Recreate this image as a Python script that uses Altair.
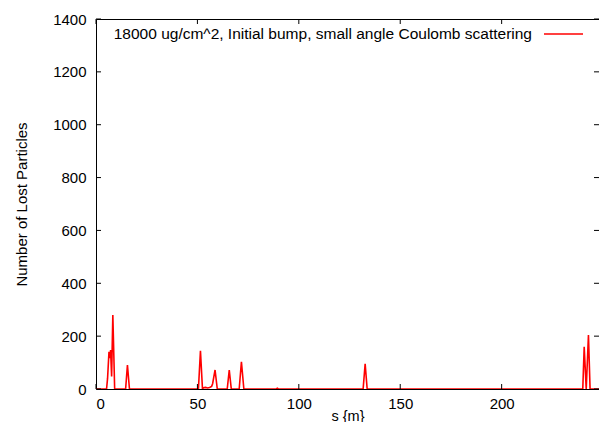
import altair as alt
import pandas as pd

# data
s_m = [0, 5.2, 5.7, 6.4, 6.9, 7.2, 7.7, 8.3, 9.2, 14.6, 15.5, 16.5,
       50.5, 51.5, 52.5, 53.0, 54.0, 55.0, 56.0, 57.0, 57.5, 58.7, 59.8,
       64.7, 65.7, 66.7, 70.6, 71.7, 72.9, 88.9, 89.4, 89.9,
       131.7, 132.7, 133.7, 240.0, 240.7, 241.7, 242.8, 243.6, 248]
lost = [0, 0, 40, 141, 117, 147, 47, 280, 0, 0, 91, 0,
        0, 145, 0, 5, 6, 4, 6, 10, 20, 72, 0,
        0, 72, 0, 0, 103, 0, 0, 3, 0,
        0, 95, 0, 0, 160, 0, 204, 0, 0]

x_ticks = [0, 50, 100, 150, 200]
y_ticks = [0, 200, 400, 600, 800, 1000, 1200, 1400]
legend_label = "18000 ug/cm^2, Initial bump, small angle Coulomb scattering"

W, H = 503, 370
XMAX, YMAX = 248, 1400
FONT = "Liberation Sans"

df = pd.DataFrame({"s": s_m, "n": lost})
xt = pd.DataFrame({"t": x_ticks})
yt = pd.DataFrame({"t": y_ticks})

xs = alt.Scale(domain=[0, XMAX], nice=False, zero=False)
ys = alt.Scale(domain=[0, YMAX], nice=False)

line = alt.Chart(df).mark_line(color="#ff0000", strokeWidth=1.6, clip=True).encode(
    x=alt.X("s:Q", scale=xs, title="s {m}",
            axis=alt.Axis(values=x_ticks, format="d", domain=False, ticks=False, grid=False,
                          labelPadding=7, labelFontSize=15, labelFont=FONT,
                          labelColor="black", titleFont=FONT, titleFontSize=14.5,
                          titleFontWeight="normal", titleColor="black", titlePadding=-2)),
    y=alt.Y("n:Q", scale=ys, title="Number of Lost Particles",
            axis=alt.Axis(values=y_ticks, format="d", domain=False, ticks=False, grid=False,
                          labelPadding=10, labelFontSize=15, labelFont=FONT,
                          labelColor="black", titleFont=FONT, titleFontSize=15,
                          titleFontWeight="normal", titleColor="black", titlePadding=23)),
)

tick_bottom = alt.Chart(xt).mark_rule(color="black", strokeWidth=1).encode(
    x=alt.X("t:Q", scale=xs), y=alt.value(H), y2=alt.value(H - 5))
tick_top = alt.Chart(xt).mark_rule(color="black", strokeWidth=1).encode(
    x=alt.X("t:Q", scale=xs), y=alt.value(0), y2=alt.value(5))
tick_left = alt.Chart(yt).mark_rule(color="black", strokeWidth=1).encode(
    y=alt.Y("t:Q", scale=ys), x=alt.value(0), x2=alt.value(5))
tick_right = alt.Chart(yt).mark_rule(color="black", strokeWidth=1).encode(
    y=alt.Y("t:Q", scale=ys), x=alt.value(W), x2=alt.value(W - 5))

leg_df = pd.DataFrame({"label": [legend_label]})
leg_text = alt.Chart(leg_df).mark_text(
    align="right", baseline="middle", fontSize=15.5, font=FONT, color="black"
).encode(x=alt.value(436), y=alt.value(15), text="label:N")
leg_line = alt.Chart(leg_df).mark_rule(color="#ff0000", strokeWidth=1.5).encode(
    x=alt.value(448), x2=alt.value(487), y=alt.value(15))

chart = alt.layer(line, tick_bottom, tick_top, tick_left, tick_right, leg_text, leg_line).properties(
    width=W, height=H,
    padding={"left": 88, "top": 11, "right": 0, "bottom": 33},
    autosize="none",
).configure_view(stroke="black", strokeWidth=1)

chart.save("out.html", embed_options={"renderer": "svg", "actions": False})
